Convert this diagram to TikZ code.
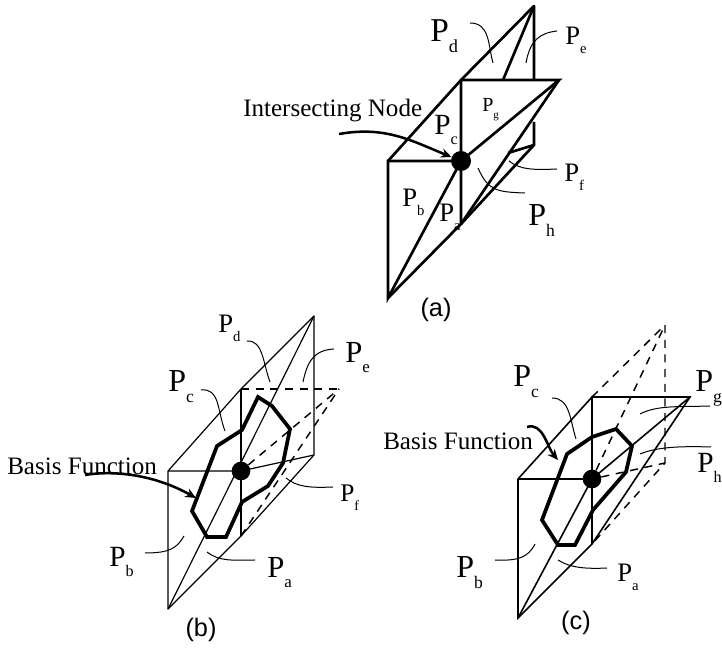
\documentclass[tikz,border=0pt]{standalone}
\usepackage{fontspec}
\setmainfont{Liberation Serif}
\newfontfamily\capfont{Liberation Sans}
\usetikzlibrary{arrows.meta}
\newcommand{\Psub}[1]{P\raisebox{-.32em}{\scalebox{.55}{#1}}}

\begin{document}
\begin{tikzpicture}[
    x=0.75pt,y=-0.75pt,
    >=Latex,
    edgeA/.style={line width=2pt},
    edgeB/.style={line width=0.9pt},
    hidden/.style={line width=1.1pt,dash pattern=on 6pt off 5pt},
    outline/.style={line width=2.8pt,line join=miter},
    leader/.style={line width=0.75pt},
    pointer/.style={->,line width=1.9pt,>={Stealth[length=8pt,width=7pt]}},
    hub/.style={circle,fill=black,inner sep=0pt},
    plabel/.style={anchor=base west,inner sep=0pt,font=\fontsize{#1}{#1}\selectfont},
    plabel/.default=20pt,
    note/.style={anchor=base west,inner sep=0pt,font=\fontsize{18.8pt}{20pt}\selectfont},
    caption/.style={anchor=base,inner sep=0pt,font=\capfont\fontsize{19pt}{21pt}\selectfont}]
  \useasboundingbox (0,0) rectangle (722,648);

  % panel (a)
  \coordinate (aT) at (534,6);
  \coordinate (aM) at (461,80);
  \coordinate (aR) at (559,80);
  \coordinate (aL) at (388,161);
  \coordinate (aB) at (461,224);
  \coordinate (aV) at (388,298);
  \coordinate (aK) at (534,145);
  \coordinate (aN) at (534,122);
  \coordinate (aQ) at (503,80);
  \coordinate (aW) at (534,80);
  \coordinate (aS) at (508,153);
  \node[hub,minimum size=15pt] (aC) at (461,161) {};
  \draw[edgeA,line join=round] (aL) -- (aM) -- (aT) -- (aW);
  \draw[edgeA] (aM) -- (aR) -- (aC.center) -- (aV) -- (aL) -- (aC.center);
  \draw[edgeA] (aM) -- (aB) -- (aV);
  \draw[edgeA] (aB) -- (aK) -- (aN);
  \draw[edgeA] (aB) -- (aR);
  \draw[edgeA] (aT) -- (aQ);
  \draw[edgeA] (aK) -- (aS);
  \node[plabel=25pt] (pda) at (430,42) {\Psub{d}};
  \node[plabel=20pt] (pea) at (565,45) {\Psub{e}};
  \node[plabel=15pt] (pga) at (482,112) {\Psub{g}};
  \node[plabel=22pt] (pca) at (434,135) {\Psub{c}};
  \node[plabel=20pt] (pba) at (402,207) {\Psub{b}};
  \node[plabel=20pt] (paa) at (439,222) {\Psub{a}};
  \node[plabel=20pt] (pfa) at (564,182) {\Psub{f}};
  \node[plabel=24pt] (pha) at (528,226) {\Psub{h}};
  \node[note] (nodea) at (243,117) {Intersecting Node};
  \node[caption] (capa) at (436,317) {(a)};
  \draw[leader] (470,23) .. controls (490,23) and (488,45) .. (493,63);
  \draw[leader] (557,31) .. controls (540,33) and (530,40) .. (526,63);
  \draw[leader] (557,169) .. controls (535,170) and (520,170) .. (509,161);
  \draw[leader] (525,193) .. controls (495,192) and (488,190) .. (478,168);
  \draw[pointer] (339,134) .. controls (385,126) and (410,140) .. (aC);

  % panel (b)
  \coordinate (bT) at (314,316);
  \coordinate (bM) at (241,389);
  \coordinate (bR) at (339,389);
  \coordinate (bL) at (168,471);
  \coordinate (bB) at (241,536);
  \coordinate (bV) at (168,609);
  \coordinate (bK) at (314,455);
  \node[hub,minimum size=14pt] (bC) at (241,471) {};
  \draw[edgeB,line join=round] (bL) -- (bM) -- (bT) -- (bK) -- (bB) -- (bV) -- (bL) -- (bC.center) -- (bK);
  \draw[edgeB] (bM) -- (bB);
  \draw[edgeB] (bV) -- (bT);
  \draw[hidden] (bM) -- (bR);
  \draw[hidden] (bC) -- (bR);
  \draw[hidden] (bB) -- (bR);
  \draw[outline] (258,397) -- (272,406) -- (290,429) -- (283,463) -- (268,486) -- (242,502)
    -- (226,537) -- (207,537) -- (192,511) -- (217,446) -- (242,430) -- cycle;
  \node[plabel=20pt] (pdb) at (218,333) {\Psub{d}};
  \node[plabel=23pt] (peb) at (345,363) {\Psub{e}};
  \node[plabel=24pt] (pcb) at (168,392) {\Psub{c}};
  \node[plabel=19pt] (pfb) at (340,502) {\Psub{f}};
  \node[plabel=23pt] (pab) at (267,578) {\Psub{a}};
  \node[plabel=22pt] (pbb) at (109,567) {\Psub{b}};
  \node[note] (nodeb) at (7,475) {Basis Function};
  \node[caption] (capb) at (201,637) {(b)};
  \draw[leader] (247,341) .. controls (263,340) and (263,363) .. (270,382);
  \draw[leader] (334,349) .. controls (313,350) and (307,363) .. (303,382);
  \draw[leader] (201,390) .. controls (220,388) and (217,410) .. (225,431);
  \draw[leader] (333,487) .. controls (310,488) and (297,487) .. (286,478);
  \draw[leader] (255,560) .. controls (233,560) and (220,562) .. (207,552);
  \draw[leader] (145,553) .. controls (170,553) and (177,548) .. (184,536);
  \draw[pointer] (85,475) .. controls (115,470) and (155,475) .. (196,498);

  % panel (c)
  \coordinate (cT) at (665,325);
  \coordinate (cM) at (592,397);
  \coordinate (cR) at (690,397);
  \coordinate (cL) at (518,479);
  \coordinate (cB) at (592,544);
  \coordinate (cV) at (518,618);
  \coordinate (cK) at (665,463);
  \node[hub,minimum size=14pt] (cC) at (592,479) {};
  \draw[edgeB,line width=1.2pt,line join=round] (cM) -- (cL) -- (cC.center);
  \draw[edgeB,line width=1.2pt] (cL) -- (cV) -- (cB) -- (cR) -- (cM) -- (cB);
  \draw[edgeB,line width=1.2pt] (cV) -- (cC.center) -- (cR);
  \draw[hidden] (cM) -- (cT) -- (cK) -- (cB);
  \draw[hidden] (cC) -- (cT);
  \draw[hidden] (cC) -- (cK);
  \draw[outline] (616,429) -- (632,446) -- (626,472) -- (593,510) -- (575,545) -- (558,545)
    -- (542,520) -- (567,454) -- (592,437) -- cycle;
  \node[plabel=24pt] (pcc) at (513,387) {\Psub{c}};
  \node[plabel=24pt] (pgc) at (695,392) {\Psub{g}};
  \node[plabel=22pt] (phc) at (697,473) {\Psub{h}};
  \node[plabel=24pt] (pbc) at (456,578) {\Psub{b}};
  \node[plabel=20pt] (pac) at (617,582) {\Psub{a}};
  \node[note] (nodec) at (383,450) {Basis Function};
  \node[caption] (capc) at (576,630) {(c)};
  \draw[leader] (552,398) .. controls (570,398) and (570,420) .. (576,439);
  \draw[leader] (710,406) .. controls (680,407) and (657,405) .. (640,414);
  \draw[leader] (711,447) .. controls (680,446) and (657,447) .. (640,454);
  \draw[leader] (607,568) .. controls (587,569) and (570,568) .. (558,560);
  \draw[leader] (495,560) .. controls (517,561) and (528,558) .. (535,544);
  \draw[pointer] (527,427) .. controls (543,422) and (547,447) .. (558,460);
\end{tikzpicture}
\end{document}
